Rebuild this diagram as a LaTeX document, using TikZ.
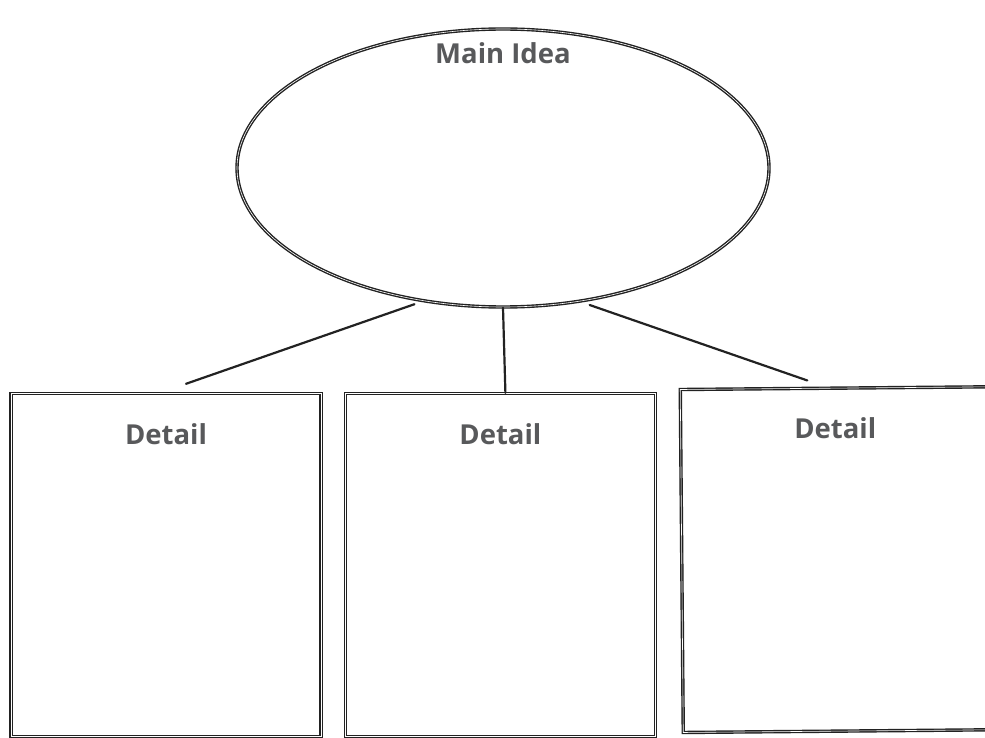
\documentclass[tikz,border=0pt]{standalone}
\usepackage{fontspec}
\setmainfont{Open Sans}
\usetikzlibrary{positioning,shapes.geometric}
\definecolor{ink}{HTML}{222222}
\definecolor{labelgray}{HTML}{58595B}

\begin{document}
\begin{tikzpicture}[x=1pt, y=-1pt,
  sketch/.style={draw=ink, line width=1.4pt, double=white, double distance=0.6pt},
  detailbox/.style={sketch, rectangle, minimum width=310pt, minimum height=343pt, inner sep=0pt},
  title/.style={text=labelgray, font=\bfseries\fontsize{27.5}{32}\selectfont},
  stroke/.style={draw=ink, line width=2.2pt, line cap=round}]
\useasboundingbox (0,0) rectangle (985,738);

\node[sketch, ellipse, minimum width=532pt, minimum height=278pt] (main) at (503,168) {};
\node[title] (maintitle) at ([yshift=-25pt]main.north) {Main Idea};

\node[detailbox] (d1) at (166,565) {};
\node[detailbox, right=23pt of d1] (d2) {};
\node[detailbox, rotate=0.5, right=25pt of d2, yshift=4pt] (d3) {};

\node[title] (t1) at ([yshift=-41pt]d1.north) {Detail};
\node[title] (t2) at ([yshift=-41pt]d2.north) {Detail};
\node[title] (t3) at ([yshift=-41pt]d3.north) {Detail};

% free ends of the connectors, just above the boxes
\coordinate (e1) at ([xshift=20pt, yshift=9pt]d1.north);
\coordinate (e2) at ([xshift=5pt]d2.north);
\coordinate (e3) at ([xshift=-28pt, yshift=7pt]d3.north);

\draw[stroke, shorten <=9pt] (main.239) -- (e1);
\draw[stroke] (main.270) -- (e2);
\draw[stroke, shorten <=10pt] (main.300) -- (e3);

\end{tikzpicture}
\end{document}
